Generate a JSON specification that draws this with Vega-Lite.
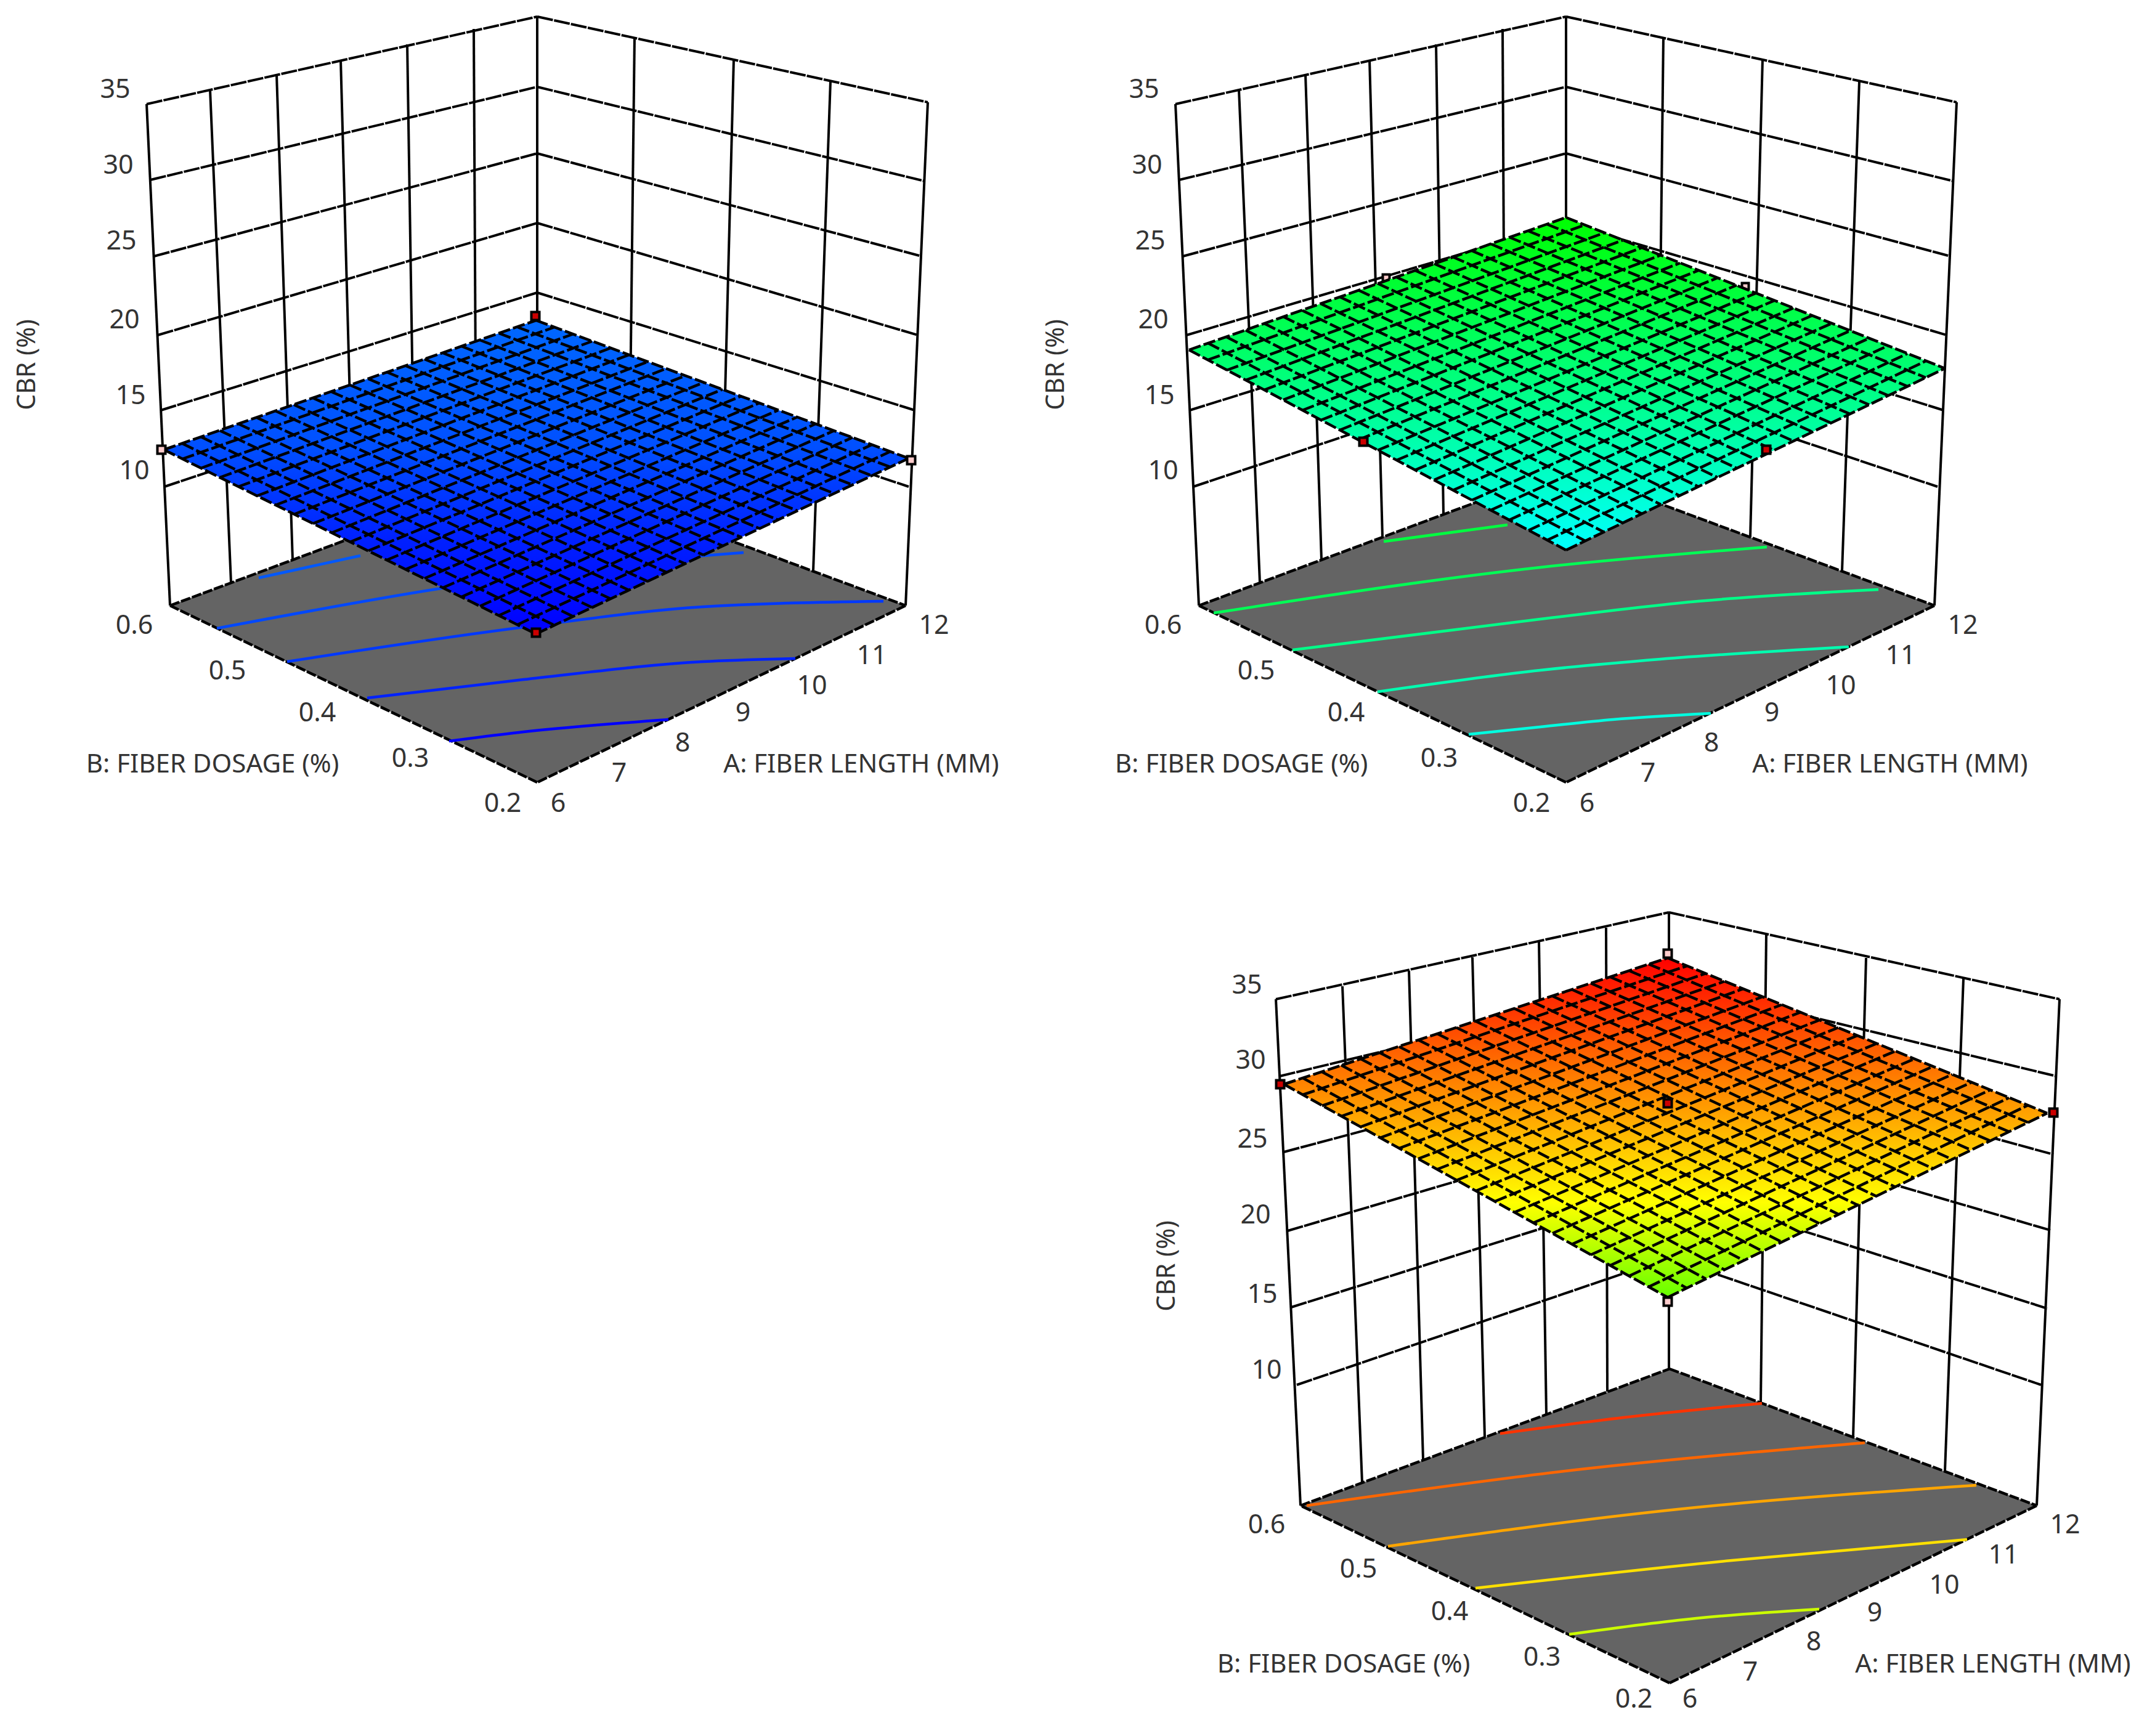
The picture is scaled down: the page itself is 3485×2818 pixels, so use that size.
{
"$schema":"https://vega.github.io/schema/vega-lite/v6.json",
"width":3485,"height":2818,
"autosize":{"type":"fit","contains":"padding"},
"padding":0,
"background":"white",
"config":{"view":{"stroke":null}},
"datasets":{
"verticals":[
{"x":238,"y":169,"x2":276,"y2":983},{"x":341,"y":146,"x2":375,"y2":946},{"x":449,"y":121,"x2":475,"y2":909},{"x":553,"y":97,"x2":574,"y2":872},{"x":661,"y":72,"x2":673,"y2":835},{"x":769,"y":47,"x2":773,"y2":798},{"x":872,"y":27,"x2":872,"y2":761},
{"x":1030,"y":60,"x2":1021,"y2":816},{"x":1191,"y":96,"x2":1171,"y2":872},{"x":1348,"y":132,"x2":1320,"y2":927},{"x":1506,"y":166,"x2":1470,"y2":983},
{"x":1908,"y":169,"x2":1946,"y2":983},{"x":2011,"y":146,"x2":2045,"y2":946},{"x":2119,"y":121,"x2":2145,"y2":909},{"x":2223,"y":97,"x2":2244,"y2":872},{"x":2331,"y":72,"x2":2343,"y2":835},{"x":2439,"y":47,"x2":2443,"y2":798},{"x":2542,"y":27,"x2":2542,"y2":761},
{"x":2700,"y":60,"x2":2691,"y2":816},{"x":2861,"y":96,"x2":2841,"y2":872},{"x":3018,"y":132,"x2":2990,"y2":927},{"x":3176,"y":166,"x2":3140,"y2":983},
{"x":2071,"y":1622,"x2":2111,"y2":2444},{"x":2179,"y":1601,"x2":2211,"y2":2407},{"x":2287,"y":1576,"x2":2310,"y2":2370},{"x":2390,"y":1554,"x2":2410,"y2":2333},{"x":2498,"y":1528,"x2":2510,"y2":2296},{"x":2607,"y":1506,"x2":2609,"y2":2259},{"x":2709,"y":1481,"x2":2709,"y2":2222},
{"x":2867,"y":1517,"x2":2858,"y2":2277},{"x":3029,"y":1555,"x2":3008,"y2":2333},{"x":3187,"y":1589,"x2":3157,"y2":2388},{"x":3343,"y":1622,"x2":3306,"y2":2444}
],
"levels":[
{"x":238,"y":169,"x2":872,"y2":27},{"x":244,"y":292,"x2":872,"y2":141},{"x":250,"y":416,"x2":872,"y2":249},{"x":256,"y":544,"x2":872,"y2":362},{"x":261,"y":666,"x2":872,"y2":475},{"x":267,"y":790,"x2":872,"y2":588},
{"x":872,"y":27,"x2":1506,"y2":166},{"x":872,"y":141,"x2":1501,"y2":294},{"x":872,"y":249,"x2":1496,"y2":416},{"x":872,"y":362,"x2":1490,"y2":544},{"x":872,"y":475,"x2":1485,"y2":666},{"x":872,"y":588,"x2":1475,"y2":790},
{"x":1908,"y":169,"x2":2542,"y2":27},{"x":1914,"y":292,"x2":2542,"y2":141},{"x":1920,"y":416,"x2":2542,"y2":249},{"x":1926,"y":544,"x2":2542,"y2":362},{"x":1931,"y":666,"x2":2542,"y2":475},{"x":1937,"y":790,"x2":2542,"y2":588},
{"x":2542,"y":27,"x2":3176,"y2":166},{"x":2542,"y":141,"x2":3171,"y2":294},{"x":2542,"y":249,"x2":3166,"y2":416},{"x":2542,"y":362,"x2":3160,"y2":544},{"x":2542,"y":475,"x2":3155,"y2":666},{"x":2542,"y":588,"x2":3145,"y2":790},
{"x":2071,"y":1622,"x2":2709,"y2":1481},{"x":2077,"y":1747,"x2":2709,"y2":1595},{"x":2084,"y":1870,"x2":2709,"y2":1703},{"x":2090,"y":1998,"x2":2709,"y2":1816},{"x":2096,"y":2122,"x2":2709,"y2":1929},{"x":2105,"y":2248,"x2":2709,"y2":2042},
{"x":2709,"y":1481,"x2":3343,"y2":1622},{"x":2709,"y":1595,"x2":3338,"y2":1747},{"x":2709,"y":1703,"x2":3333,"y2":1874},{"x":2709,"y":1816,"x2":3328,"y2":1997},{"x":2709,"y":1929,"x2":3323,"y2":2124},{"x":2709,"y":2042,"x2":3313,"y2":2248}
],
"floors":[
{"id":1,"x":276,"y":983,"y2":983},{"id":1,"x":872,"y":761,"y2":1270},{"id":1,"x":1470,"y":983,"y2":983},
{"id":2,"x":1946,"y":983,"y2":983},{"id":2,"x":2542,"y":761,"y2":1270},{"id":2,"x":3140,"y":983,"y2":983},
{"id":3,"x":2111,"y":2444,"y2":2444},{"id":3,"x":2710,"y":2222,"y2":2732},{"id":3,"x":3306,"y":2444,"y2":2444}
],
"floorEdges":[
{"x":276,"y":983,"x2":872,"y2":761},{"x":872,"y":761,"x2":1470,"y2":983},{"x":1470,"y":983,"x2":872,"y2":1270},{"x":872,"y":1270,"x2":276,"y2":983},
{"x":1946,"y":983,"x2":2542,"y2":761},{"x":2542,"y":761,"x2":3140,"y2":983},{"x":3140,"y":983,"x2":2542,"y2":1270},{"x":2542,"y":1270,"x2":1946,"y2":983},
{"x":2111,"y":2444,"x2":2710,"y2":2222},{"x":2710,"y":2222,"x2":3306,"y2":2444},{"x":3306,"y":2444,"x2":2710,"y2":2732},{"x":2710,"y":2732,"x2":2111,"y2":2444}
],
"contours":[
{"id":"1a","c":"#0058ff","x":420,"y":938},{"id":"1a","c":"#0058ff","x":585,"y":902},
{"id":"1b","c":"#0048ff","x":352,"y":1020},{"id":"1b","c":"#0048ff","x":710,"y":956},{"id":"1b","c":"#0048ff","x":1000,"y":915},{"id":"1b","c":"#0048ff","x":1207,"y":897},
{"id":"1c","c":"#0038ff","x":466,"y":1074},{"id":"1c","c":"#0038ff","x":850,"y":1018},{"id":"1c","c":"#0038ff","x":1141,"y":985},{"id":"1c","c":"#0038ff","x":1434,"y":976},
{"id":"1d","c":"#0022ff","x":596,"y":1133},{"id":"1d","c":"#0022ff","x":850,"y":1103},{"id":"1d","c":"#0022ff","x":1141,"y":1074},{"id":"1d","c":"#0022ff","x":1291,"y":1069},
{"id":"1e","c":"#0000ff","x":729,"y":1203},{"id":"1e","c":"#0000ff","x":850,"y":1188},{"id":"1e","c":"#0000ff","x":1085,"y":1168},
{"id":"2a","c":"#00ff40","x":2246,"y":879},{"id":"2a","c":"#00ff40","x":2447,"y":852},
{"id":"2b","c":"#00ff55","x":1970,"y":995},{"id":"2b","c":"#00ff55","x":2500,"y":921},{"id":"2b","c":"#00ff55","x":2868,"y":888},
{"id":"2c","c":"#00ff88","x":2098,"y":1055},{"id":"2c","c":"#00ff88","x":2500,"y":1005},{"id":"2c","c":"#00ff88","x":2756,"y":976},{"id":"2c","c":"#00ff88","x":3049,"y":957},
{"id":"2d","c":"#00ffb0","x":2236,"y":1123},{"id":"2d","c":"#00ffb0","x":2500,"y":1088},{"id":"2d","c":"#00ffb0","x":2695,"y":1070},{"id":"2d","c":"#00ffb0","x":3001,"y":1050},
{"id":"2e","c":"#00ffe0","x":2384,"y":1192},{"id":"2e","c":"#00ffe0","x":2500,"y":1180},{"id":"2e","c":"#00ffe0","x":2618,"y":1168},{"id":"2e","c":"#00ffe0","x":2777,"y":1158},
{"id":"3a","c":"#ff3300","x":2435,"y":2327},{"id":"3a","c":"#ff3300","x":2635,"y":2301},{"id":"3a","c":"#ff3300","x":2860,"y":2278},
{"id":"3b","c":"#ff6600","x":2121,"y":2444},{"id":"3b","c":"#ff6600","x":2557,"y":2386},{"id":"3b","c":"#ff6600","x":3027,"y":2342},
{"id":"3c","c":"#ffa500","x":2253,"y":2510},{"id":"3c","c":"#ffa500","x":2723,"y":2450},{"id":"3c","c":"#ffa500","x":3208,"y":2411},
{"id":"3d","c":"#ffe000","x":2395,"y":2578},{"id":"3d","c":"#ffe000","x":2811,"y":2533},{"id":"3d","c":"#ffe000","x":3193,"y":2499},
{"id":"3e","c":"#ccff00","x":2547,"y":2653},{"id":"3e","c":"#ccff00","x":2753,"y":2627},{"id":"3e","c":"#ccff00","x":2953,"y":2612}
],
"surfaces":[
{"p":1,"x":266,"y":730,"y2":730},{"p":1,"x":870,"y":520,"y2":1029},{"p":1,"x":1475,"y":744,"y2":744},
{"p":2,"x":1930,"y":568,"y2":568},{"p":2,"x":2542,"y":353,"y2":893},{"p":2,"x":3157,"y":598,"y2":598},
{"p":3,"x":2084,"y":1760,"y2":1760},{"p":3,"x":2707,"y":1555,"y2":2106},{"p":3,"x":3323,"y":1807,"y2":1807}
],
"mesh":[
{"x":266,"y":730,"x2":870,"y2":520},{"x":296,"y":745,"x2":900,"y2":531},{"x":326,"y":760,"x2":931,"y2":542},{"x":357,"y":775,"x2":961,"y2":554},{"x":387,"y":790,"x2":991,"y2":565},{"x":417,"y":805,"x2":1021,"y2":576},{"x":447,"y":820,"x2":1052,"y2":587},{"x":477,"y":835,"x2":1082,"y2":598},{"x":508,"y":850,"x2":1112,"y2":610},{"x":538,"y":865,"x2":1142,"y2":621},{"x":568,"y":880,"x2":1173,"y2":632},{"x":598,"y":894,"x2":1203,"y2":643},{"x":628,"y":909,"x2":1233,"y2":654},{"x":659,"y":924,"x2":1263,"y2":666},{"x":689,"y":939,"x2":1294,"y2":677},{"x":719,"y":954,"x2":1324,"y2":688},{"x":749,"y":969,"x2":1354,"y2":699},{"x":779,"y":984,"x2":1384,"y2":710},{"x":810,"y":999,"x2":1415,"y2":722},{"x":840,"y":1014,"x2":1445,"y2":733},{"x":870,"y":1029,"x2":1475,"y2":744},
{"x":266,"y":730,"x2":870,"y2":1029},{"x":296,"y":720,"x2":900,"y2":1015},{"x":326,"y":709,"x2":931,"y2":1001},{"x":357,"y":699,"x2":961,"y2":986},{"x":387,"y":688,"x2":991,"y2":972},{"x":417,"y":678,"x2":1021,"y2":958},{"x":447,"y":667,"x2":1052,"y2":944},{"x":477,"y":657,"x2":1082,"y2":929},{"x":508,"y":646,"x2":1112,"y2":915},{"x":538,"y":636,"x2":1142,"y2":901},{"x":568,"y":625,"x2":1173,"y2":886},{"x":598,"y":615,"x2":1203,"y2":872},{"x":628,"y":604,"x2":1233,"y2":858},{"x":659,"y":594,"x2":1263,"y2":844},{"x":689,"y":583,"x2":1294,"y2":829},{"x":719,"y":573,"x2":1324,"y2":815},{"x":749,"y":562,"x2":1354,"y2":801},{"x":779,"y":552,"x2":1384,"y2":787},{"x":810,"y":541,"x2":1415,"y2":772},{"x":840,"y":531,"x2":1445,"y2":758},{"x":870,"y":520,"x2":1475,"y2":744},
{"x":1930,"y":568,"x2":2542,"y2":353},{"x":1961,"y":584,"x2":2573,"y2":365},{"x":1991,"y":601,"x2":2604,"y2":378},{"x":2022,"y":617,"x2":2634,"y2":390},{"x":2052,"y":633,"x2":2665,"y2":402},{"x":2083,"y":649,"x2":2696,"y2":414},{"x":2114,"y":666,"x2":2727,"y2":427},{"x":2144,"y":682,"x2":2757,"y2":439},{"x":2175,"y":698,"x2":2788,"y2":451},{"x":2205,"y":714,"x2":2819,"y2":463},{"x":2236,"y":731,"x2":2850,"y2":476},{"x":2267,"y":747,"x2":2880,"y2":488},{"x":2297,"y":763,"x2":2911,"y2":500},{"x":2328,"y":779,"x2":2942,"y2":512},{"x":2358,"y":796,"x2":2973,"y2":525},{"x":2389,"y":812,"x2":3003,"y2":537},{"x":2420,"y":828,"x2":3034,"y2":549},{"x":2450,"y":844,"x2":3065,"y2":561},{"x":2481,"y":861,"x2":3096,"y2":574},{"x":2511,"y":877,"x2":3126,"y2":586},{"x":2542,"y":893,"x2":3157,"y2":598},
{"x":1930,"y":568,"x2":2542,"y2":893},{"x":1961,"y":557,"x2":2573,"y2":878},{"x":1991,"y":547,"x2":2604,"y2":864},{"x":2022,"y":536,"x2":2634,"y2":849},{"x":2052,"y":525,"x2":2665,"y2":834},{"x":2083,"y":514,"x2":2696,"y2":819},{"x":2114,"y":504,"x2":2727,"y2":805},{"x":2144,"y":493,"x2":2757,"y2":790},{"x":2175,"y":482,"x2":2788,"y2":775},{"x":2205,"y":471,"x2":2819,"y2":760},{"x":2236,"y":460,"x2":2850,"y2":746},{"x":2267,"y":450,"x2":2880,"y2":731},{"x":2297,"y":439,"x2":2911,"y2":716},{"x":2328,"y":428,"x2":2942,"y2":701},{"x":2358,"y":417,"x2":2973,"y2":687},{"x":2389,"y":407,"x2":3003,"y2":672},{"x":2420,"y":396,"x2":3034,"y2":657},{"x":2450,"y":385,"x2":3065,"y2":642},{"x":2481,"y":375,"x2":3096,"y2":627},{"x":2511,"y":364,"x2":3126,"y2":613},{"x":2542,"y":353,"x2":3157,"y2":598},
{"x":2084,"y":1760,"x2":2707,"y2":1555},{"x":2115,"y":1777,"x2":2738,"y2":1568},{"x":2146,"y":1795,"x2":2769,"y2":1580},{"x":2177,"y":1812,"x2":2799,"y2":1593},{"x":2209,"y":1829,"x2":2830,"y2":1605},{"x":2240,"y":1847,"x2":2861,"y2":1618},{"x":2271,"y":1864,"x2":2892,"y2":1631},{"x":2302,"y":1881,"x2":2923,"y2":1643},{"x":2333,"y":1898,"x2":2953,"y2":1656},{"x":2364,"y":1916,"x2":2984,"y2":1668},{"x":2396,"y":1933,"x2":3015,"y2":1681},{"x":2427,"y":1950,"x2":3046,"y2":1694},{"x":2458,"y":1968,"x2":3077,"y2":1706},{"x":2489,"y":1985,"x2":3107,"y2":1719},{"x":2520,"y":2002,"x2":3138,"y2":1731},{"x":2551,"y":2020,"x2":3169,"y2":1744},{"x":2582,"y":2037,"x2":3200,"y2":1757},{"x":2614,"y":2054,"x2":3231,"y2":1769},{"x":2645,"y":2071,"x2":3261,"y2":1782},{"x":2676,"y":2089,"x2":3292,"y2":1794},{"x":2707,"y":2106,"x2":3323,"y2":1807},
{"x":2084,"y":1760,"x2":2707,"y2":2106},{"x":2115,"y":1750,"x2":2738,"y2":2091},{"x":2146,"y":1740,"x2":2769,"y2":2076},{"x":2177,"y":1729,"x2":2799,"y2":2061},{"x":2209,"y":1719,"x2":2830,"y2":2046},{"x":2240,"y":1709,"x2":2861,"y2":2031},{"x":2271,"y":1699,"x2":2892,"y2":2016},{"x":2302,"y":1688,"x2":2923,"y2":2001},{"x":2333,"y":1678,"x2":2953,"y2":1986},{"x":2364,"y":1668,"x2":2984,"y2":1971},{"x":2396,"y":1658,"x2":3015,"y2":1956},{"x":2427,"y":1647,"x2":3046,"y2":1942},{"x":2458,"y":1637,"x2":3077,"y2":1927},{"x":2489,"y":1627,"x2":3107,"y2":1912},{"x":2520,"y":1617,"x2":3138,"y2":1897},{"x":2551,"y":1606,"x2":3169,"y2":1882},{"x":2582,"y":1596,"x2":3200,"y2":1867},{"x":2614,"y":1586,"x2":3231,"y2":1852},{"x":2645,"y":1576,"x2":3261,"y2":1837},{"x":2676,"y":1565,"x2":3292,"y2":1822},{"x":2707,"y":1555,"x2":3323,"y2":1807}
],
"hiddenPoints":[
{"x":2250,"y":451,"c":"#ffcccc"},{"x":2833,"y":465,"c":"#ffcccc"}
],
"points":[
{"x":869,"y":513,"c":"#cc0000"},{"x":870,"y":1027,"c":"#cc0000"},{"x":262,"y":730,"c":"#ffcccc"},{"x":1479,"y":747,"c":"#ffcccc"},
{"x":2213,"y":717,"c":"#cc0000"},{"x":2867,"y":730,"c":"#cc0000"},
{"x":2078,"y":1760,"c":"#cc0000"},{"x":2707,"y":1791,"c":"#cc0000"},{"x":3333,"y":1806,"c":"#cc0000"},{"x":2707,"y":1548,"c":"#ffcccc"},{"x":2707,"y":2113,"c":"#ffcccc"}
],
"ticks":[
{"x":187,"y":146,"t":"35"},{"x":192,"y":269,"t":"30"},{"x":197,"y":392,"t":"25"},{"x":202,"y":520,"t":"20"},{"x":212,"y":643,"t":"15"},{"x":218,"y":765,"t":"10"},
{"x":218,"y":1016,"t":"0.6"},{"x":369,"y":1090,"t":"0.5"},{"x":515,"y":1158,"t":"0.4"},{"x":666,"y":1232,"t":"0.3"},{"x":816,"y":1305,"t":"0.2"},
{"x":906,"y":1305,"t":"6"},{"x":1005,"y":1256,"t":"7"},{"x":1108,"y":1207,"t":"8"},{"x":1206,"y":1158,"t":"9"},{"x":1318,"y":1114,"t":"10"},{"x":1415,"y":1065,"t":"11"},{"x":1516,"y":1016,"t":"12"},
{"x":1857,"y":146,"t":"35"},{"x":1862,"y":269,"t":"30"},{"x":1867,"y":392,"t":"25"},{"x":1872,"y":520,"t":"20"},{"x":1882,"y":643,"t":"15"},{"x":1888,"y":765,"t":"10"},
{"x":1888,"y":1016,"t":"0.6"},{"x":2039,"y":1090,"t":"0.5"},{"x":2185,"y":1158,"t":"0.4"},{"x":2336,"y":1232,"t":"0.3"},{"x":2486,"y":1305,"t":"0.2"},
{"x":2576,"y":1305,"t":"6"},{"x":2675,"y":1256,"t":"7"},{"x":2778,"y":1207,"t":"8"},{"x":2876,"y":1158,"t":"9"},{"x":2988,"y":1114,"t":"10"},{"x":3085,"y":1065,"t":"11"},{"x":3186,"y":1016,"t":"12"},
{"x":2024,"y":1600,"t":"35"},{"x":2030,"y":1722,"t":"30"},{"x":2033,"y":1850,"t":"25"},{"x":2038,"y":1973,"t":"20"},{"x":2049,"y":2102,"t":"15"},{"x":2056,"y":2225,"t":"10"},
{"x":2056,"y":2476,"t":"0.6"},{"x":2205,"y":2548,"t":"0.5"},{"x":2353,"y":2617,"t":"0.4"},{"x":2503,"y":2691,"t":"0.3"},{"x":2652,"y":2759,"t":"0.2"},
{"x":2743,"y":2759,"t":"6"},{"x":2841,"y":2715,"t":"7"},{"x":2944,"y":2666,"t":"8"},{"x":3043,"y":2619,"t":"9"},{"x":3156,"y":2574,"t":"10"},{"x":3252,"y":2525,"t":"11"},{"x":3352,"y":2476,"t":"12"}
],
"axisTitles":[
{"x":345,"y":1241,"t":"B: FIBER DOSAGE (%)"},{"x":1398,"y":1241,"t":"A: FIBER LENGTH (MM)"},
{"x":2015,"y":1241,"t":"B: FIBER DOSAGE (%)"},{"x":3068,"y":1241,"t":"A: FIBER LENGTH (MM)"},
{"x":2181,"y":2702,"t":"B: FIBER DOSAGE (%)"},{"x":3235,"y":2702,"t":"A: FIBER LENGTH (MM)"}
],
"cbrTitles":[
{"x":45,"y":592,"t":"CBR (%)"},{"x":1715,"y":592,"t":"CBR (%)"},{"x":1895,"y":2055,"t":"CBR (%)"}
]
},
"encoding":{
"x":{"field":"x","type":"quantitative","scale":{"domain":[0,3485],"nice":false,"zero":false},"axis":null},
"y":{"field":"y","type":"quantitative","scale":{"domain":[0,2818],"reverse":true,"nice":false,"zero":false},"axis":null}
},
"layer":[
{"data":{"name":"verticals"},"mark":{"type":"rule","color":"black","strokeWidth":4},"encoding":{"x2":{"field":"x2"},"y2":{"field":"y2"}}},
{"data":{"name":"levels"},"mark":{"type":"rule","color":"black","strokeWidth":4,"strokeDash":[26,2]},"encoding":{"x2":{"field":"x2"},"y2":{"field":"y2"}}},
{"data":{"name":"floors"},"mark":{"type":"area","color":"#646464"},"encoding":{"y2":{"field":"y2"},"detail":{"field":"id"}}},
{"data":{"name":"floorEdges"},"mark":{"type":"rule","color":"black","strokeWidth":4.5,"strokeDash":[16,3]},"encoding":{"x2":{"field":"x2"},"y2":{"field":"y2"}}},
{"data":{"name":"contours"},"mark":{"type":"line","strokeWidth":4.5,"interpolate":"monotone"},"encoding":{"detail":{"field":"id"},"color":{"field":"c","type":"nominal","scale":null,"legend":null}}},
{"data":{"name":"hiddenPoints"},"mark":{"type":"point","shape":"square","filled":true,"opacity":1,"size":120,"stroke":"black","strokeWidth":4},"encoding":{"color":{"field":"c","type":"nominal","scale":null,"legend":null}}},
{"data":{"name":"surfaces"},"transform":[{"filter":"datum.p==1"}],"mark":{"type":"area","color":{"gradient":"linear","x1":0,"y1":0,"x2":0,"y2":1,"stops":[{"offset":0,"color":"#0068ff"},{"offset":0.4,"color":"#0050ff"},{"offset":0.7,"color":"#0020ff"},{"offset":1,"color":"#0000ff"}]}},"encoding":{"y2":{"field":"y2"}}},
{"data":{"name":"surfaces"},"transform":[{"filter":"datum.p==2"}],"mark":{"type":"area","color":{"gradient":"linear","x1":0,"y1":0,"x2":0,"y2":1,"stops":[{"offset":0,"color":"#00ff00"},{"offset":0.5,"color":"#00ff80"},{"offset":1,"color":"#00ffff"}]}},"encoding":{"y2":{"field":"y2"}}},
{"data":{"name":"surfaces"},"transform":[{"filter":"datum.p==3"}],"mark":{"type":"area","color":{"gradient":"linear","x1":0,"y1":0,"x2":0,"y2":1,"stops":[{"offset":0,"color":"#ff0000"},{"offset":0.72,"color":"#ffff00"},{"offset":1,"color":"#66ff00"}]}},"encoding":{"y2":{"field":"y2"}}},
{"data":{"name":"mesh"},"mark":{"type":"rule","color":"black","strokeWidth":4.5,"strokeDash":[20,5]},"encoding":{"x2":{"field":"x2"},"y2":{"field":"y2"}}},
{"data":{"name":"points"},"mark":{"type":"point","shape":"square","filled":true,"opacity":1,"size":170,"stroke":"black","strokeWidth":4},"encoding":{"color":{"field":"c","type":"nominal","scale":null,"legend":null}}},
{"data":{"name":"ticks"},"mark":{"type":"text","font":"Noto Sans","fontSize":43,"color":"#333333","align":"center","baseline":"middle"},"encoding":{"text":{"field":"t"}}},
{"data":{"name":"axisTitles"},"mark":{"type":"text","font":"Noto Sans","fontSize":42,"color":"#333333","align":"center","baseline":"middle"},"encoding":{"text":{"field":"t"}}},
{"data":{"name":"cbrTitles"},"mark":{"type":"text","font":"Noto Sans","fontSize":41,"color":"#333333","align":"center","baseline":"middle","angle":270},"encoding":{"text":{"field":"t"}}}
]
}
